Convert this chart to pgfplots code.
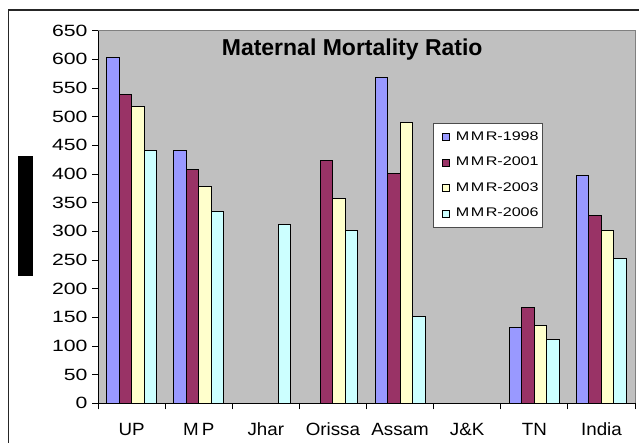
\documentclass[border=0pt]{standalone}
\usepackage{fontspec}
\setmainfont{Liberation Sans}
\usepackage{graphicx}
\usepackage{pgfplots}
\pgfplotsset{compat=1.18}
\definecolor{c98}{HTML}{9999FF}
\definecolor{c01}{HTML}{993366}
\definecolor{c03}{HTML}{FFFFCC}
\definecolor{c06}{HTML}{CCFFFF}
\definecolor{bg}{HTML}{C0C0C0}
\newcommand{\legtxt}[1]{\scalebox{1.29}[1]{M\kern1.2bp M\kern1.2bp R-#1}}
\begin{document}
\begin{tikzpicture}
\useasboundingbox (0,0) rectangle (639bp,443bp);
\fill[white] (0,0) rectangle (639bp,443bp);
\draw[black!85, line width=1.3bp] (8.5bp,0) -- (8.5bp,433bp) -- (639bp,433bp);
\fill[black] (17.7bp,167bp) rectangle (33.3bp,287.3bp);
\begin{axis}[
  at={(98bp,39.7bp)}, anchor=origin,
  scale only axis, width=537bp, height=372.6bp,
  xmin=0, xmax=8, ymin=0, ymax=650,
  ybar=0pt, bar width=0.186,
  axis background/.style={fill=bg},
  axis line style={draw=none},
  ytick={0,50,...,650},
  xtick={0.5,1.5,...,7.5},
  xticklabels={UP, M\,P, Jhar, Orissa, Assam, J\&K, TN, India},
  minor xtick={0,1,...,8},
  xtick pos=bottom, ytick pos=left,
  tick align=outside,
  major x tick style={draw=none},
  major y tick style={black, line width=0.8bp},
  minor x tick style={black, line width=0.8bp},
  major tick length=6bp, minor tick length=6bp,
  yticklabel={\scalebox{1.3}[1]{\pgfmathprintnumber[assume math mode=true]{\tick}}},
  yticklabel style={font=\fontsize{16.3bp}{17bp}\selectfont, anchor=east, xshift=-1bp},
  xticklabel style={font=\fontsize{17.7bp}{18bp}\selectfont, anchor=base, yshift=-26bp, xscale=1.06},
  legend style={at={(0.6244,0.7515)}, anchor=north west, draw=black!70, fill=white,
    font=\fontsize{12.5bp}{13bp}\selectfont,
    nodes={text height=9bp, text depth=2.5bp, inner sep=0pt, anchor=west},
    row sep=14bp, inner xsep=3bp, inner ysep=8bp,
    /tikz/every odd column/.append style={column sep=6bp}},
  legend cell align=left,
  legend image code/.code={\path (0,0); \draw[#1, draw=black, line width=0.9bp] (5.4bp,-3.5bp) rectangle (12.4bp,3.5bp);},
  every axis plot/.append style={draw=black, line width=1bp},
  clip=false,
]
\addplot[fill=c98] coordinates {(0.5,604) (1.5,441) (4.5,568) (6.5,132) (7.5,398)};
\addplot[fill=c01] coordinates {(0.5,539) (1.5,407) (3.5,424) (4.5,401) (6.5,167) (7.5,327)};
\addplot[fill=c03] coordinates {(0.5,518) (1.5,379) (3.5,358) (4.5,490) (6.5,135) (7.5,302)};
\addplot[fill=c06] coordinates {(0.5,441) (1.5,334) (2.5,312) (3.5,302) (4.5,152) (6.5,111) (7.5,253)};
\legend{\legtxt{1998}, \legtxt{2001}, \legtxt{2003}, \legtxt{2006}}
\draw[black!50, line width=1bp] (rel axis cs:0,1) -- (rel axis cs:1,1) -- (rel axis cs:1,0);
\draw[black, line width=1bp] (rel axis cs:0,1) -- (rel axis cs:0,0) -- (rel axis cs:1,0);
\end{axis}
\node[font=\fontsize{23bp}{24bp}\selectfont\bfseries] at (352.2bp,393bp) {Maternal Mortality Ratio};
\end{tikzpicture}
\end{document}
